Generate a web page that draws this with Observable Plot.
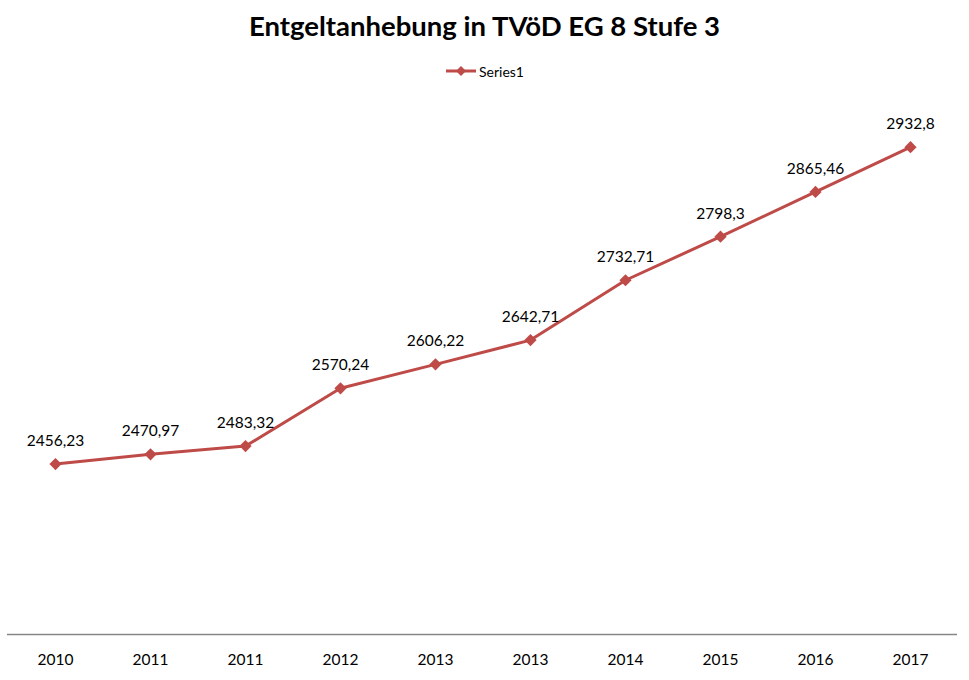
<!DOCTYPE html>
<html>
<head>
<meta charset="utf-8">
<script src="https://cdn.jsdelivr.net/npm/d3@7"></script>
<script src="https://cdn.jsdelivr.net/npm/@observablehq/plot@0.6"></script>
<style>
  html, body { margin: 0; padding: 0; background: #fff; }
  body { width: 969px; height: 680px; overflow: hidden; font-family: Lato, "Open Sans", sans-serif; }
  #title { height: 52px; line-height: 52px; text-align: center; font-weight: bold; font-size: 27.5px; color: #000; }
  #legend { height: 38px; display: flex; align-items: center; justify-content: center; font-size: 14px; color: #000; }
  #legend svg { margin-right: 2px; }
</style>
</head>
<body>
<div id="title">Entgeltanhebung in TVöD EG 8 Stufe 3</div>
<div id="legend"><svg width="32" height="12"><line x1="1" y1="6" x2="31" y2="6" stroke="#BE4B48" stroke-width="3"/><path d="M16,1 L21,6 L16,11 L11,6 Z" fill="#BE4B48"/></svg><span>Series1</span></div>
<div id="chart"></div>
<script>
const categories = ["2010", "2011", "2011", "2012", "2013", "2013", "2014", "2015", "2016", "2017"];
const values = [2456.23, 2470.97, 2483.32, 2570.24, 2606.22, 2642.71, 2732.71, 2798.3, 2865.46, 2932.8];
const seriesName = "Series1";
const yDomain = [2200, 3000];

const data = values.map((v, i) => ({ i, label: categories[i], value: v, series: seriesName }));
const color = "#BE4B48";
const fmt = v => String(v).replace(".", ",");

const chart = Plot.plot({
  width: 969,
  height: 590,
  marginTop: 12,
  marginBottom: 46,
  marginLeft: 7,
  marginRight: 12,
  style: { fontFamily: "Lato, 'Open Sans', sans-serif", background: "#fff" },
  x: { type: "point", domain: d3.range(categories.length), padding: 0.5, axis: null, label: null },
  y: { domain: yDomain, axis: null },
  marks: [
    Plot.ruleY([yDomain[0]], { stroke: "#868686", strokeWidth: 1.3 }),
    Plot.axisX({ tickSize: 0, tickPadding: 19, fontSize: 15.5, tickFormat: i => categories[i], stroke: null, fill: "#000", label: null }),
    Plot.line(data, { x: "i", y: "value", stroke: color, strokeWidth: 3 }),
    Plot.dot(data, { x: "i", y: "value", symbol: "diamond2", r: 5.5, fill: color, stroke: null }),
    Plot.text(data, { x: "i", y: "value", text: d => fmt(d.value), dy: -23, fontSize: 15.5, fill: "#000" })
  ]
});
document.getElementById("chart").appendChild(chart);
</script>
</body>
</html>
